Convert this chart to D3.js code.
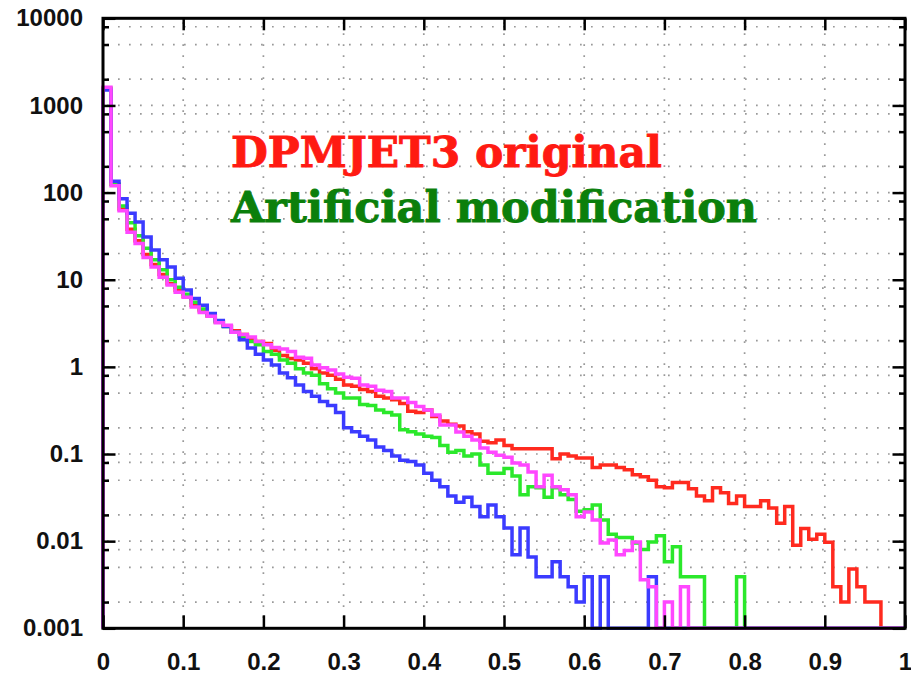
<!DOCTYPE html>
<html>
<head>
<meta charset="utf-8">
<script src="https://cdn.jsdelivr.net/npm/d3@7"></script>
<style>
  body { margin: 0; background: #fff; }
  svg { display: block; }
</style>
</head>
<body>
<svg id="chart" width="911" height="674"></svg>
<script>
// Histograms: 100 bins of width 0.01 over [0, 1]; zero = empty bin.
const binWidth = 0.01;

const red = [
  1550, 125, 65, 38, 28, 19.5, 15, 11.5, 9, 7.5,
  6.4, 5.1, 4.4, 3.8, 3.3, 2.95, 2.6, 2.35, 2.05, 1.95,
  1.85, 1.55, 1.35, 1.25, 1.2, 1.1, 0.95, 0.85, 0.8, 0.72,
  0.62, 0.6, 0.55, 0.52, 0.46, 0.44, 0.42, 0.38, 0.31, 0.3,
  0.32, 0.27, 0.24, 0.22, 0.21, 0.18, 0.17, 0.14, 0.135, 0.145,
  0.125, 0.115, 0.115, 0.115, 0.115, 0.115, 0.088, 0.1, 0.095, 0.09,
  0.09, 0.07, 0.075, 0.075, 0.07, 0.066, 0.058, 0.055, 0.05, 0.042,
  0.041, 0.047, 0.047, 0.04, 0.033, 0.029, 0.041, 0.036, 0.027, 0.033,
  0.025, 0.025, 0.029, 0.024, 0.016, 0.025, 0.009, 0.014, 0.0105, 0.012,
  0.0097, 0.003, 0.002, 0.0048, 0.003, 0.002, 0.002, 0, 0, 0
];

const green = [
  1580, 125, 70, 45, 32, 23, 17, 13, 10, 8.2,
  6.8, 5.5, 4.6, 3.9, 3.3, 2.9, 2.5, 2.25, 1.95, 1.8,
  1.5, 1.4, 1.2, 1.1, 0.95, 0.85, 0.8, 0.64, 0.56, 0.5,
  0.44, 0.44, 0.37, 0.36, 0.32, 0.3, 0.28, 0.19, 0.18, 0.17,
  0.16, 0.155, 0.125, 0.105, 0.11, 0.095, 0.1, 0.075, 0.06, 0.06,
  0.068, 0.056, 0.034, 0.042, 0.041, 0.032, 0.041, 0.034, 0.03, 0.022,
  0.023, 0.026, 0.0175, 0.012, 0.011, 0.011, 0.0095, 0.008, 0.0098, 0.0115,
  0.0058, 0.0086, 0.0039, 0.0039, 0.0039, 0, 0, 0, 0, 0.0039,
  0, 0, 0, 0, 0, 0, 0, 0, 0, 0,
  0, 0, 0, 0, 0, 0, 0, 0, 0, 0
];

const blue = [
  1500, 135, 85, 58, 46, 31, 22, 17, 14, 10.4,
  7.6, 6.1, 5.1, 4.1, 3.4, 2.9, 2.5, 2.05, 1.65, 1.4,
  1.2, 1.05, 0.85, 0.75, 0.62, 0.52, 0.46, 0.4, 0.36, 0.3,
  0.2, 0.18, 0.16, 0.145, 0.12, 0.11, 0.095, 0.085, 0.082, 0.075,
  0.06, 0.05, 0.042, 0.033, 0.028, 0.032, 0.025, 0.019, 0.026, 0.019,
  0.0142, 0.007, 0.0142, 0.0066, 0.0039, 0.0039, 0.0058, 0.0039, 0.003, 0.002,
  0.0039, 0, 0.0039, 0, 0, 0, 0, 0, 0.0039, 0,
  0, 0, 0, 0, 0, 0, 0, 0, 0, 0,
  0, 0, 0, 0, 0, 0, 0, 0, 0, 0,
  0, 0, 0, 0, 0, 0, 0, 0, 0, 0
];

const magenta = [
  1620, 120, 62, 35, 26, 18, 14, 10.7, 8.7, 7.2,
  6.3, 4.85, 4.2, 3.8, 3.2, 3.0, 2.5, 2.35, 2.2, 1.95,
  1.8, 1.67, 1.6, 1.5, 1.29, 1.26, 1.05, 0.98, 0.92, 0.83,
  0.76, 0.74, 0.62, 0.6, 0.54, 0.52, 0.44, 0.44, 0.39, 0.35,
  0.32, 0.28, 0.215, 0.215, 0.179, 0.16, 0.145, 0.117, 0.105, 0.097,
  0.092, 0.079, 0.075, 0.062, 0.042, 0.057, 0.042, 0.039, 0.034, 0.019,
  0.0216, 0.0175, 0.0095, 0.0103, 0.007, 0.0078, 0.0098, 0.0036, 0.003, 0,
  0.002, 0, 0.003, 0, 0, 0, 0, 0, 0, 0,
  0, 0, 0, 0, 0, 0, 0, 0, 0, 0,
  0, 0, 0, 0, 0, 0, 0, 0, 0, 0
];

const xTickValues = [0, 0.1, 0.2, 0.3, 0.4, 0.5, 0.6, 0.7, 0.8, 0.9, 1];
const xTickLabels = ["0", "0.1", "0.2", "0.3", "0.4", "0.5", "0.6", "0.7", "0.8", "0.9", "1"];
const yTickValues = [0.001, 0.01, 0.1, 1, 10, 100, 1000, 10000];
const yTickLabels = ["0.001", "0.01", "0.1", "1", "10", "100", "1000", "10000"];
const minorMultipliers = [2, 5, 8];

const legendLines = [
  { text: "DPMJET3 original", color: "#ff1a12" },
  { text: "Artificial modification", color: "#0b7f0b" }
];

const seriesList = [
  { values: red, color: "#ff2a1f" },
  { values: green, color: "#2be82b" },
  { values: blue, color: "#3b3bff" },
  { values: magenta, color: "#ff47ff" }
];

// ---- layout ----
const frame = { left: 103, right: 905, top: 18.3, bottom: 628.3 };
const svg = d3.select("#chart");

const x = d3.scaleLinear().domain([0, 1]).range([frame.left, frame.right]);
const y = d3.scaleLog().domain([0.001, 10000]).range([frame.bottom, frame.top]).clamp(true);
const floorValue = y.domain()[0];

const minorValues = [];
for (let e = -3; e <= 3; e++) {
  minorMultipliers.forEach(mul => minorValues.push(mul * Math.pow(10, e)));
}
const gridY = yTickValues.slice(1, -1).concat(minorValues);

// ---- dotted grid ----
const grid = svg.append("g").attr("stroke", "#999").attr("stroke-width", 1.7)
  .attr("stroke-dasharray", "1.7 9.3");
grid.selectAll("line.h").data(gridY).join("line")
  .attr("class", "h")
  .attr("x1", frame.left + 4).attr("x2", frame.right)
  .attr("y1", d => y(d)).attr("y2", d => y(d));
grid.selectAll("line.v").data(xTickValues.slice(1, -1)).join("line")
  .attr("class", "v")
  .attr("x1", d => x(d)).attr("x2", d => x(d))
  .attr("y1", frame.top + 4).attr("y2", frame.bottom);

// ---- histograms ----
function stepPoints(values) {
  const pts = [[0, floorValue]];
  values.forEach((v, i) => pts.push([i * binWidth, v > 0 ? v : floorValue]));
  pts.push([values.length * binWidth, values[values.length - 1] > 0 ? values[values.length - 1] : floorValue]);
  return pts;
}
const line = d3.line()
  .x(d => x(d[0]))
  .y(d => y(d[1]))
  .curve(d3.curveStepAfter);

svg.append("g").selectAll("path").data(seriesList).join("path")
  .attr("d", d => line(stepPoints(d.values)))
  .attr("fill", "none")
  .attr("stroke", d => d.color)
  .attr("stroke-width", 3.5)
  .attr("stroke-linejoin", "miter");

// ---- axes ----
const tickFont = "'Liberation Sans', Arial, Helvetica, sans-serif";

const xBottom = svg.append("g")
  .attr("transform", `translate(0,${frame.bottom})`)
  .call(d3.axisBottom(x).tickValues(xTickValues).tickSize(-13).tickPadding(25)
    .tickFormat((d, i) => xTickLabels[i]));
const xTop = svg.append("g")
  .attr("transform", `translate(0,${frame.top})`)
  .call(d3.axisTop(x).tickValues(xTickValues).tickSize(-12).tickFormat(""));
const yLeft = svg.append("g")
  .attr("transform", `translate(${frame.left},0)`)
  .call(d3.axisLeft(y).tickValues(yTickValues).tickSize(-12.5).tickPadding(20)
    .tickFormat((d, i) => yTickLabels[i]));
const yRight = svg.append("g")
  .attr("transform", `translate(${frame.right},0)`)
  .call(d3.axisRight(y).tickValues(yTickValues).tickSize(-12.5).tickFormat(""));

const yLeftMinor = svg.append("g")
  .attr("transform", `translate(${frame.left},0)`)
  .call(d3.axisLeft(y).tickValues(minorValues).tickSize(-6).tickFormat(""));
const yRightMinor = svg.append("g")
  .attr("transform", `translate(${frame.right},0)`)
  .call(d3.axisRight(y).tickValues(minorValues).tickSize(-6).tickFormat(""));

[xBottom, xTop, yLeft, yRight, yLeftMinor, yRightMinor].forEach(g => {
  g.select(".domain").remove();
  g.selectAll(".tick line").attr("stroke", "#000").attr("stroke-width", 2.5);
  g.selectAll(".tick text")
    .attr("fill", "#111")
    .attr("font-family", tickFont)
    .attr("font-weight", "bold")
    .attr("font-size", 24);
});

svg.append("rect")
  .attr("x", frame.left).attr("y", frame.top)
  .attr("width", frame.right - frame.left).attr("height", frame.bottom - frame.top)
  .attr("fill", "none").attr("stroke", "#000").attr("stroke-width", 3);

// ---- legend text ----
const legendLayout = [
  { x: 231, y: 167, width: 431, size: 42 },
  { x: 231, y: 222, width: 526, size: 42 }
];
svg.append("g").selectAll("text").data(legendLines).join("text")
  .attr("x", (d, i) => legendLayout[i].x)
  .attr("y", (d, i) => legendLayout[i].y)
  .attr("textLength", (d, i) => legendLayout[i].width)
  .attr("lengthAdjust", "spacingAndGlyphs")
  .attr("font-family", "'DejaVu Serif', serif")
  .attr("font-weight", "bold")
  .attr("font-size", (d, i) => legendLayout[i].size)
  .attr("fill", d => d.color)
  .attr("stroke", d => d.color)
  .attr("stroke-width", 0.9)
  .text(d => d.text);
</script>
</body>
</html>
